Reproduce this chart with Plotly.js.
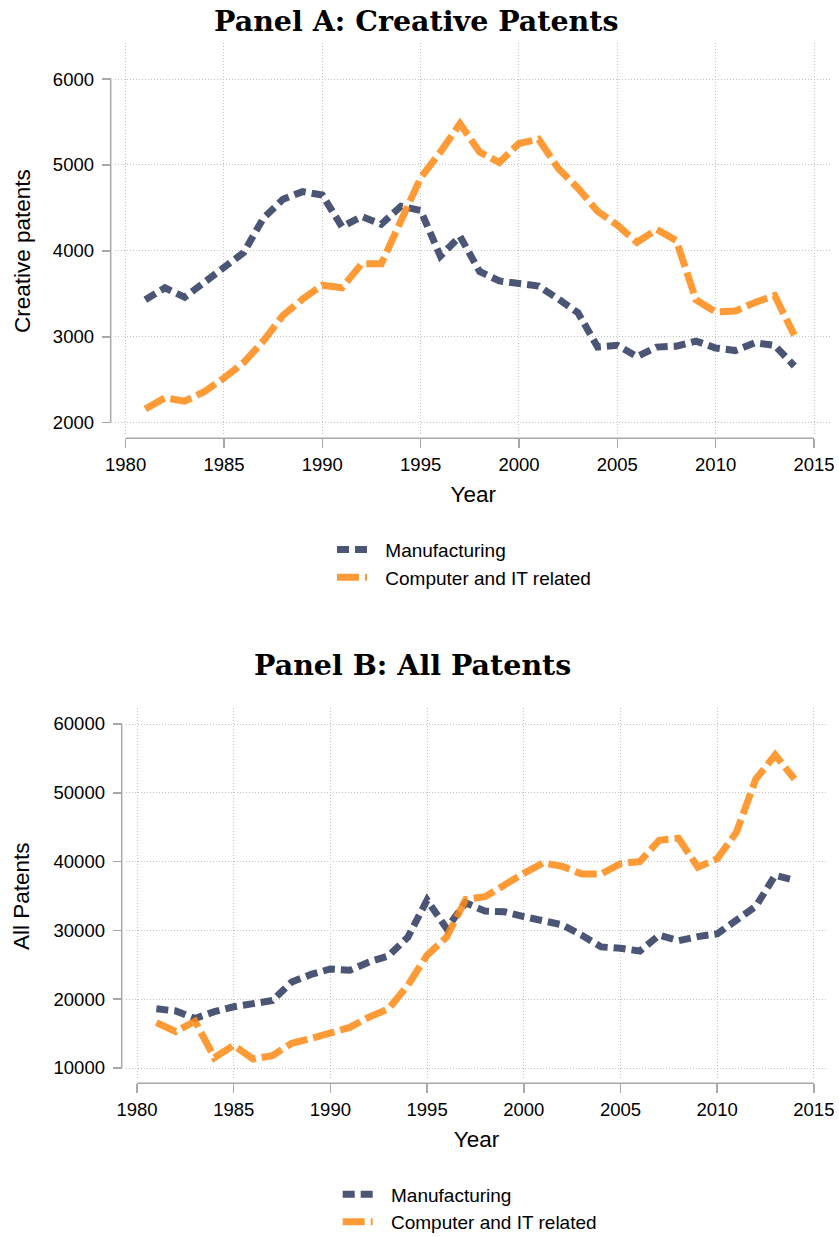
<!DOCTYPE html>
<html>
<head>
<meta charset="utf-8">
<script src="https://cdn.plot.ly/plotly-3.0.1.min.js"></script>
<style>
html,body{margin:0;padding:0;background:#ffffff;}
#chart{width:839px;height:1237px;}
</style>
</head>
<body>
<div id="chart"></div>
<script>
// ---------------- data ----------------
const years = [1981,1982,1983,1984,1985,1986,1987,1988,1989,1990,1991,1992,1993,1994,1995,1996,1997,
               1998,1999,2000,2001,2002,2003,2004,2005,2006,2007,2008,2009,2010,2011,2012,2013,2014];

const creativeManufacturing = [3430,3570,3460,3640,3810,3980,4380,4600,4690,4650,4280,4400,4310,4520,4470,3940,4170,
                               3760,3650,3610,3590,3440,3280,2880,2900,2770,2880,2890,2950,2870,2840,2930,2900,2660];
const creativeComputerIT    = [2160,2290,2250,2360,2520,2700,2950,3250,3440,3600,3570,3850,3850,4350,4850,5150,5480,
                               5150,5030,5250,5300,4960,4730,4460,4300,4100,4250,4120,3430,3290,3300,3400,3480,3020];

const allManufacturing = [18600,18300,17200,18200,18900,19400,19800,22500,23600,24400,24200,25400,26300,29000,34400,30300,34000,
                          32800,32700,32000,31400,30800,29300,27600,27400,27000,29300,28500,29100,29500,31500,33500,38000,37300];
const allComputerIT    = [16600,15300,16800,11500,13300,11300,11800,13600,14300,15200,15900,17400,18600,22000,26400,29000,34500,
                          34900,36700,38300,39800,39300,38200,38200,39700,40000,43100,43400,39200,40400,44300,52000,55500,52000];

const seriesNames = ["Manufacturing", "Computer and IT related"];
const xTickVals = [1980,1985,1990,1995,2000,2005,2010,2015];
const yTickValsA = [2000,3000,4000,5000,6000];
const yTickValsB = [10000,20000,30000,40000,50000,60000];
const panelTitles = ["Panel A: Creative Patents", "Panel B: All Patents"];
const xTitle = "Year";
const yTitles = ["Creative patents", "All Patents"];

// ---------------- style ----------------
const W = 839, H = 1237;
const NAVY = "rgba(55,66,102,0.9)";
const ORANGE = "rgba(255,138,20,0.85)";
const AXC = "#a8a8a8";
const SANS = "Liberation Sans, Arial, sans-serif";
const SERIF = "DejaVu Serif, serif";
const px = v => v / W;
const py = v => 1 - v / H;
const GAP = "\u2002\u2009";   // visual gap between legend key and label

function line(x, y, name, color, dash, xa, ya, leg, grp) {
  return {
    type: "scatter", mode: "lines", x: x, y: y, name: GAP + name,
    xaxis: xa, yaxis: ya, legend: leg, legendgroup: grp,
    line: {color: color, width: 7, dash: dash},
    hoverinfo: "x+y"
  };
}

const traces = [
  line(years, creativeManufacturing, seriesNames[0], NAVY, "12px,6px", "x", "y", "legend", "a1"),
  line(years, creativeComputerIT, seriesNames[1], ORANGE, "22px,6px", "x", "y", "legend", "a2"),
  line(years, allManufacturing, seriesNames[0], NAVY, "12px,6px", "x2", "y2", "legend2", "b1"),
  line(years, allComputerIT, seriesNames[1], ORANGE, "22px,6px", "x2", "y2", "legend2", "b2")
];

function xAxis(domain, range, pos) {
  return {
    domain: domain, range: range, anchor: "free", position: pos,
    tickmode: "array", tickvals: xTickVals, tickformat: "d",
    ticks: "outside", ticklen: 9, tickwidth: 1.5, tickcolor: AXC, ticklabelstandoff: 0,
    showline: false, zeroline: false,
    showgrid: true, gridcolor: "#c2c2c2", gridwidth: 1, griddash: "1px,2px",
    tickfont: {family: SANS, size: 18.5, color: "#000"},
    title: {text: xTitle, font: {family: SANS, size: 22.5, color: "#000"}, standoff: 12.5},
    automargin: false, fixedrange: true
  };
}
function yAxis(domain, range, pos, vals) {
  return {
    domain: domain, range: range, anchor: "free", position: pos,
    tickmode: "array", tickvals: vals, tickformat: "d",
    ticks: "outside", ticklen: 9, tickwidth: 1.5, tickcolor: AXC, ticklabelstandoff: 4,
    showline: false, zeroline: false,
    showgrid: true, gridcolor: "#c2c2c2", gridwidth: 1, griddash: "1px,2px",
    tickfont: {family: SANS, size: 18.5, color: "#000"},
    automargin: false, fixedrange: true
  };
}

const layout = {
  width: W, height: H,
  margin: {l: 0, r: 0, t: 0, b: 0, autoexpand: false},
  paper_bgcolor: "#ffffff", plot_bgcolor: "#ffffff",
  font: {family: SANS, color: "#000"},
  showlegend: true,
  xaxis:  xAxis([px(115), px(831.7)], [1979.46, 2015.9], py(438.3)),
  yaxis:  yAxis([py(435), py(43)], [1856.8, 6420], px(110.7), yTickValsA),
  xaxis2: xAxis([px(126), px(827)], [1979.43, 2015.68], py(1083.3)),
  yaxis2: yAxis([py(1078), py(708)], [8547, 62326], px(121.7), yTickValsB),
  legend: {
    x: px(332), y: py(530.6), xanchor: "left", yanchor: "top",
    font: {family: SANS, size: 19, color: "#000"},
    itemwidth: 30, traceorder: "grouped", tracegroupgap: 0,
    bgcolor: "rgba(0,0,0,0)", borderwidth: 0
  },
  legend2: {
    x: px(337.7), y: py(1175.3), xanchor: "left", yanchor: "top",
    font: {family: SANS, size: 19, color: "#000"},
    itemwidth: 30, traceorder: "grouped", tracegroupgap: 0,
    bgcolor: "rgba(0,0,0,0)", borderwidth: 0
  },
  shapes: [
    {type: "line", xref: "x", yref: "paper", x0: xTickVals[0], x1: xTickVals[xTickVals.length-1], y0: py(438.3), y1: py(438.3), line: {color: AXC, width: 1.5}},
    {type: "line", xref: "paper", yref: "y", x0: px(110.7), x1: px(110.7), y0: yTickValsA[0], y1: yTickValsA[yTickValsA.length-1], line: {color: AXC, width: 1.5}},
    {type: "line", xref: "x2", yref: "paper", x0: xTickVals[0], x1: xTickVals[xTickVals.length-1], y0: py(1083.3), y1: py(1083.3), line: {color: AXC, width: 1.5}},
    {type: "line", xref: "paper", yref: "y2", x0: px(121.7), x1: px(121.7), y0: yTickValsB[0], y1: yTickValsB[yTickValsB.length-1], line: {color: AXC, width: 1.5}}
  ],
  annotations: [
    {text: "<b>" + panelTitles[0] + "</b>", xref: "paper", yref: "paper", x: px(416), y: py(21), xanchor: "center", yanchor: "middle", showarrow: false, font: {family: SERIF, size: 28.5, color: "#000"}},
    {text: "<b>" + panelTitles[1] + "</b>", xref: "paper", yref: "paper", x: px(412.5), y: py(665), xanchor: "center", yanchor: "middle", showarrow: false, font: {family: SERIF, size: 28.5, color: "#000"}},
    {text: yTitles[0], xref: "paper", yref: "paper", x: px(22), y: py(251), xanchor: "center", yanchor: "middle", textangle: -90, showarrow: false, font: {family: SANS, size: 22.5, color: "#000"}},
    {text: yTitles[1], xref: "paper", yref: "paper", x: px(22), y: py(896), xanchor: "center", yanchor: "middle", textangle: -90, showarrow: false, font: {family: SANS, size: 22.5, color: "#000"}}
  ]
};

Plotly.newPlot("chart", traces, layout, {staticPlot: true, displayModeBar: false});
</script>
</body>
</html>
